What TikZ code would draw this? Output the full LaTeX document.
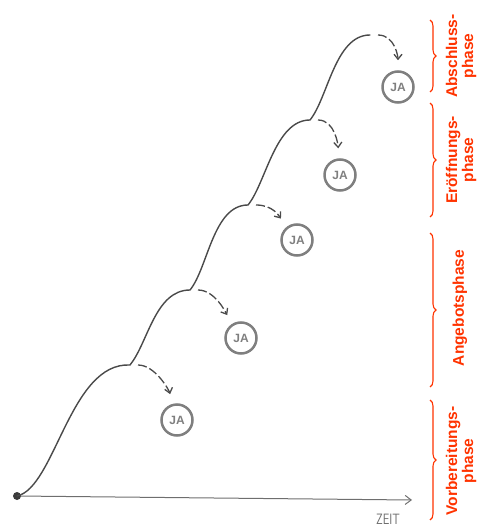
\documentclass[tikz,border=0pt]{standalone}
\usepackage{fontspec}
\setmainfont{Liberation Sans}
\usetikzlibrary{arrows.meta,decorations.pathreplacing}
\definecolor{phasered}{HTML}{FF3300}
\definecolor{pencil}{HTML}{4A4A4A}
\definecolor{axisgray}{HTML}{6E6E6E}
\definecolor{jagray}{HTML}{7F7F7F}
\begin{document}
\begin{tikzpicture}[x=1pt,y=-1pt,
  ja/.style={circle,draw=jagray,line width=2.5pt,minimum size=31pt,inner sep=0pt,
    text=jagray,font=\bfseries\fontsize{12}{12}\selectfont},
  pencilline/.style={draw=pencil,line width=1.4pt,line cap=round},
  dasharrow/.style={draw=pencil,line width=1.3pt,dash pattern=on 9pt off 3pt,
    -{Straight Barb[length=5pt,width=8pt]},shorten <=8pt,shorten >=10pt},
  phasebrace/.style={draw=phasered,line width=1.1pt,decorate,decoration={brace,amplitude=6pt}},
  phaselabel/.style={text=phasered,rotate=90,align=center,
    font=\bfseries\fontsize{15.5}{16}\selectfont}]
\useasboundingbox (0,0) rectangle (478,529);

% branch points
\node[circle,fill=pencil!80!black,inner sep=0pt,minimum size=8pt] (p0) at (17,496) {};
\coordinate (p1) at (130,365);
\coordinate (p2) at (190,290);
\coordinate (p3) at (248,205);
\coordinate (p4) at (310,120);
\coordinate (p5) at (370,35);

% JA nodes
\node[ja] (ja1) at (177,420) {JA};
\node[ja] (ja2) at (241,338) {JA};
\node[ja] (ja3) at (297,240) {JA};
\node[ja] (ja4) at (340,175) {JA};
\node[ja] (ja5) at (398,87) {JA};

% axis
\coordinate (axend) at (412,500);
\draw[axisgray,line width=1pt,-{Straight Barb[length=6pt,width=9pt]}] (p0) -- (axend);
\node[text=axisgray,font=\sffamily\fontsize{15}{15}\selectfont,xscale=0.75] (zeit) at (388,519) {ZEIT};

% main curve
\draw[pencilline] (p0.center) .. controls (55,488) and (70,362) .. (p1)
  .. controls +(18,-22) and +(-35,0) .. (p2)
  .. controls +(18,-22) and +(-35,0) .. (p3)
  .. controls +(18,-22) and +(-35,0) .. (p4)
  .. controls +(18,-22) and +(-35,0) .. (p5);

% dashed arrows to JA
\draw[dasharrow] (p1) .. controls +(25,0) and +(-8,-30) .. (ja1);
\draw[dasharrow] (p2) .. controls +(25,0) and +(-15,-25) .. (ja2);
\draw[dasharrow] (p3) .. controls +(25,0) and +(-18,-24) .. (ja3);
\draw[dasharrow] (p4) .. controls +(25,0) and +(-2,-30) .. (ja4);
\draw[dasharrow] (p5) .. controls +(25,0) and +(0,-30) .. (ja5);

% braces
\coordinate (b1t) at (430,20);  \coordinate (b1b) at (430,92);
\coordinate (b2t) at (430,103); \coordinate (b2b) at (430,217);
\coordinate (b3t) at (430,233); \coordinate (b3b) at (430,387);
\coordinate (b4t) at (430,400); \coordinate (b4b) at (430,520);
\draw[phasebrace] (b1t) -- (b1b);
\draw[phasebrace] (b2t) -- (b2b);
\draw[phasebrace] (b3t) -- (b3b);
\draw[phasebrace] (b4t) -- (b4b);

% labels
\node[phaselabel] (l1) at (461,56) {Abschluss-\\phase};
\node[phaselabel] (l2) at (461,160) {Eröffnungs-\\phase};
\node[phaselabel] (l3) at (460,308) {Angebotsphase};
\node[phaselabel] (l4) at (461,461) {Vorbereitungs-\\phase};
\end{tikzpicture}
\end{document}
